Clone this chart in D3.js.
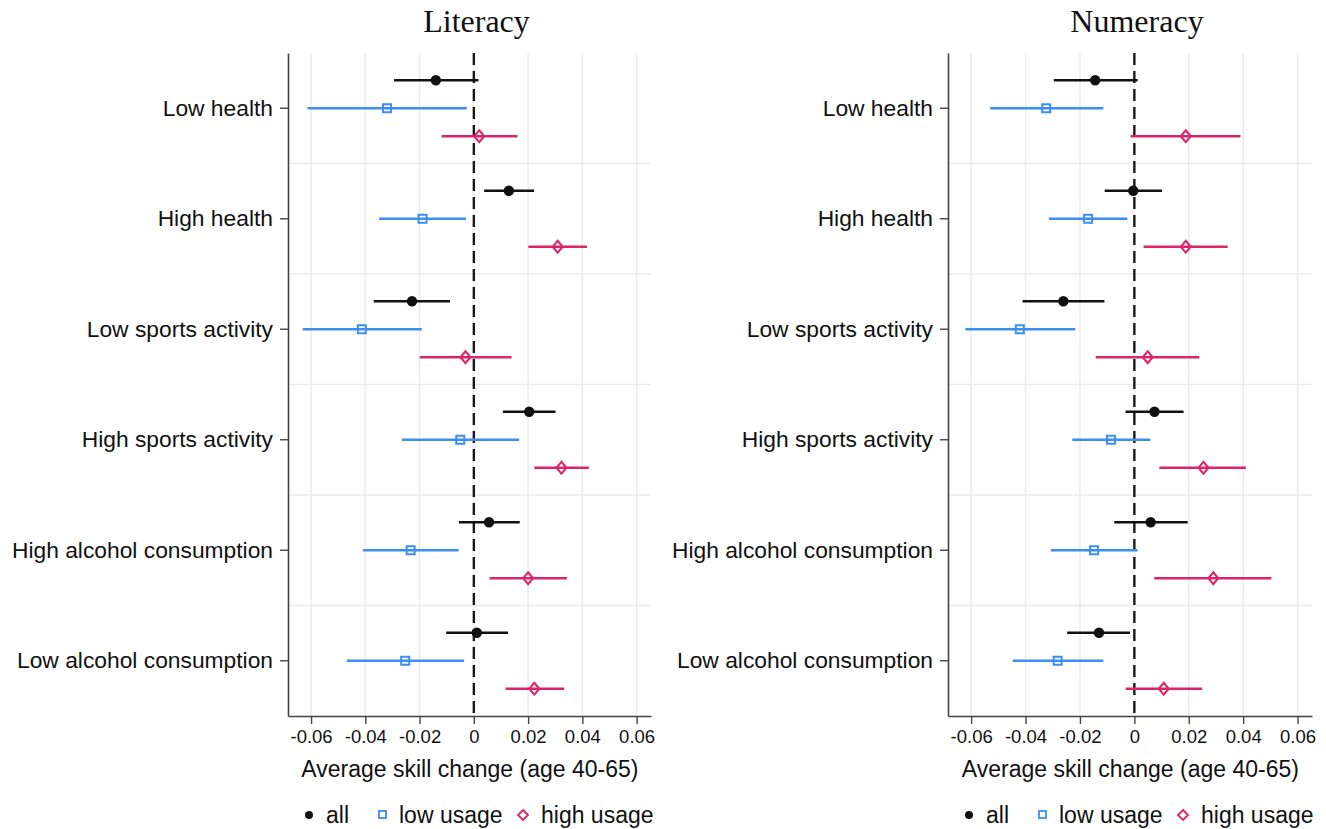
<!DOCTYPE html>
<html>
<head>
<meta charset="utf-8">
<script src="https://cdn.jsdelivr.net/npm/d3@7"></script>
<style>
  html, body { margin: 0; padding: 0; background: #fff; }
  svg { display: block; }
</style>
</head>
<body>
<svg id="chart" width="1326" height="829"></svg>
<script>
// Outcome groups, top to bottom
const categories = ["Low health", "High health", "Low sports activity", "High sports activity", "High alcohol consumption", "Low alcohol consumption"];
const seriesNames = ["all", "low usage", "high usage"];
const tickValues = [-0.06, -0.04, -0.02, 0, 0.02, 0.04, 0.06];
const tickLabels = ["-0.06", "-0.04", "-0.02", "0", "0.02", "0.04", "0.06"];

// Literacy: point estimate, lower and upper bound per category
const litAll  = [[-0.0140, -0.0294, 0.0017], [0.0129, 0.0038, 0.0222], [-0.0228, -0.0369, -0.0088], [0.0204, 0.0107, 0.0301], [0.0056, -0.0055, 0.0169], [0.0011, -0.0102, 0.0126]];
const litLow  = [[-0.0320, -0.0613, -0.0026], [-0.0189, -0.0349, -0.0029], [-0.0413, -0.0631, -0.0192], [-0.0050, -0.0265, 0.0167], [-0.0233, -0.0409, -0.0056], [-0.0253, -0.0468, -0.0036]];
const litHigh = [[0.0020, -0.0119, 0.0161], [0.0309, 0.0201, 0.0417], [-0.0031, -0.0199, 0.0139], [0.0323, 0.0223, 0.0424], [0.0200, 0.0058, 0.0343], [0.0223, 0.0117, 0.0333]];

// Numeracy
const numAll  = [[-0.0144, -0.0296, 0.0012], [-0.0004, -0.0109, 0.0102], [-0.0261, -0.0411, -0.0110], [0.0074, -0.0032, 0.0181], [0.0060, -0.0074, 0.0196], [-0.0130, -0.0247, -0.0016]];
const numLow  = [[-0.0324, -0.0530, -0.0114], [-0.0170, -0.0314, -0.0026], [-0.0421, -0.0621, -0.0217], [-0.0086, -0.0228, 0.0059], [-0.0148, -0.0307, 0.0012], [-0.0282, -0.0447, -0.0114]];
const numHigh = [[0.0189, -0.0014, 0.0390], [0.0189, 0.0034, 0.0343], [0.0049, -0.0142, 0.0239], [0.0254, 0.0092, 0.0410], [0.0290, 0.0073, 0.0504], [0.0108, -0.0032, 0.0249]];

const colors = ["#111111", "#3b8ef2", "#dc2468"];
const offsets = [-28, 0, 28];

const svg = d3.select("#chart");
const FONT = "'Liberation Sans', Arial, sans-serif";

function panel(title, x0, x1, data) {
  const top = 53, bottom = 716;
  const x = d3.scaleLinear().domain([-0.0685, 0.0653]).range([x0, x1]);
  const y = d3.scaleBand().domain(categories).range([top, bottom]).paddingInner(0).paddingOuter(0);
  const g = svg.append("g");

  // vertical grid
  g.append("g").selectAll("line").data(tickValues).join("line")
    .attr("x1", d => x(d)).attr("x2", d => x(d))
    .attr("y1", top).attr("y2", bottom)
    .attr("stroke", "#ebebeb").attr("stroke-width", 1.5);

  // horizontal separators between groups
  g.append("g").selectAll("line").data(categories.slice(1)).join("line")
    .attr("x1", x0).attr("x2", x1)
    .attr("y1", d => y(d)).attr("y2", d => y(d))
    .attr("stroke", "#ebebeb").attr("stroke-width", 1.5);

  // zero reference line
  g.append("line")
    .attr("x1", x(0)).attr("x2", x(0)).attr("y1", top).attr("y2", bottom)
    .attr("stroke", "#1a1a1a").attr("stroke-width", 2.4)
    .attr("stroke-dasharray", "12,6");

  // x axis
  const xAxis = d3.axisBottom(x).tickValues(tickValues)
    .tickFormat((d, i) => tickLabels[i]).tickSize(8).tickSizeOuter(0).tickPadding(6);
  const xa = g.append("g").attr("transform", `translate(0,${bottom})`).call(xAxis);
  xa.select(".domain").attr("stroke", "#444").attr("stroke-width", 1.6);
  xa.selectAll(".tick line").attr("stroke", "#444").attr("stroke-width", 1.4);
  xa.selectAll(".tick text").attr("font-family", FONT).attr("font-size", 18.5).attr("fill", "#111");

  // y axis
  const yAxis = d3.axisLeft(y).tickSize(8).tickSizeOuter(0).tickPadding(7);
  const ya = g.append("g").attr("transform", `translate(${x0},0)`).call(yAxis);
  ya.select(".domain").attr("stroke", "#444").attr("stroke-width", 1.6);
  ya.selectAll(".tick line").attr("stroke", "#444").attr("stroke-width", 1.4);
  ya.selectAll(".tick text").attr("font-family", FONT).attr("font-size", 22.8).attr("fill", "#111");

  // title
  g.append("text").attr("x", (x0 + x1) / 2 + 7).attr("y", 32)
    .attr("text-anchor", "middle")
    .attr("font-family", "'Liberation Serif', 'Times New Roman', serif")
    .attr("font-size", 32).attr("fill", "#111").text(title);

  // axis title
  g.append("text").attr("x", x(0) - 4).attr("y", 777)
    .attr("text-anchor", "middle").attr("font-family", FONT)
    .attr("font-size", 23).attr("fill", "#111")
    .text("Average skill change (age 40-65)");

  // estimates with intervals
  data.forEach((series, s) => {
    const sg = g.append("g");
    const rows = series.map((v, i) => ({ cat: categories[i], est: v[0], lo: v[1], hi: v[2] }));
    const cy = d => y(d.cat) + y.bandwidth() / 2 + offsets[s];
    sg.selectAll("line").data(rows).join("line")
      .attr("x1", d => x(d.lo)).attr("x2", d => x(d.hi))
      .attr("y1", cy).attr("y2", cy)
      .attr("stroke", colors[s]).attr("stroke-width", 2.4);
    if (s === 0) {
      sg.selectAll("circle").data(rows).join("circle")
        .attr("cx", d => x(d.est)).attr("cy", cy).attr("r", 5.2)
        .attr("fill", colors[s]);
    } else if (s === 1) {
      sg.selectAll("rect").data(rows).join("rect")
        .attr("x", d => x(d.est) - 4).attr("y", d => cy(d) - 4)
        .attr("width", 8).attr("height", 8)
        .attr("fill", "none").attr("stroke", colors[s]).attr("stroke-width", 2);
    } else {
      sg.selectAll("path").data(rows).join("path")
        .attr("d", d => {
          const px = x(d.est), py = cy(d);
          return `M${px},${py - 6}L${px + 5},${py}L${px},${py + 6}L${px - 5},${py}Z`;
        })
        .attr("fill", "none").attr("stroke", colors[s]).attr("stroke-width", 2);
    }
  });

  // legend
  const lg = g.append("g").attr("transform", `translate(${x0},0)`);
  const ly = 815;
  const lfs = 23;
  lg.append("circle").attr("cx", 21).attr("cy", ly).attr("r", 4).attr("fill", colors[0]);
  lg.append("text").attr("x", 38).attr("y", ly + 8).attr("font-family", FONT).attr("font-size", lfs).attr("fill", "#111").text(seriesNames[0]);
  lg.append("rect").attr("x", 91).attr("y", ly - 4).attr("width", 7).attr("height", 7)
    .attr("fill", "none").attr("stroke", colors[1]).attr("stroke-width", 1.8);
  lg.append("text").attr("x", 111).attr("y", ly + 8).attr("font-family", FONT).attr("font-size", lfs).attr("fill", "#111").text(seriesNames[1]);
  lg.append("path").attr("d", `M235,${ly - 5}L240,${ly}L235,${ly + 5}L230,${ly}Z`)
    .attr("fill", "none").attr("stroke", colors[2]).attr("stroke-width", 1.8);
  lg.append("text").attr("x", 253).attr("y", ly + 8).attr("font-family", FONT).attr("font-size", lfs).attr("fill", "#111").text(seriesNames[2]);
}

panel("Literacy", 288, 651, [litAll, litLow, litHigh]);
panel("Numeracy", 948, 1312, [numAll, numLow, numHigh]);
</script>
</body>
</html>
